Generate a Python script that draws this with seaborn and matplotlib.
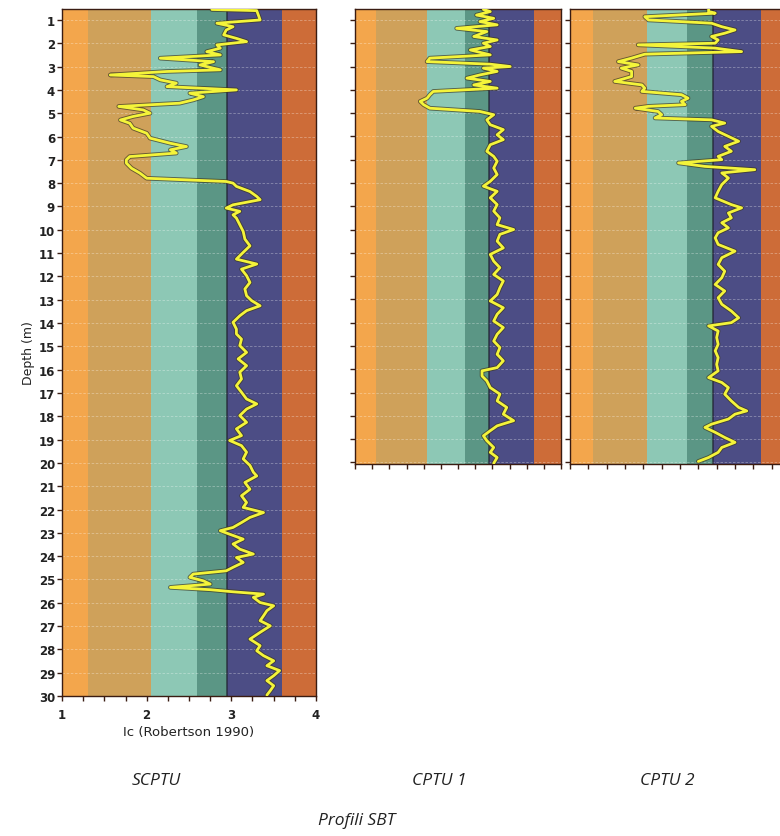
import matplotlib
matplotlib.use("Agg")
import matplotlib.pyplot as plt
import matplotlib.patheffects as pe
from matplotlib.ticker import MultipleLocator, NullFormatter
import pandas as pd
import seaborn as sns

# Robertson (1990) Ic soil behaviour type zones
zone_edges = [1.0, 1.31, 2.05, 2.60, 2.95, 3.60, 4.0]
zone_colors = ["#F3A64C", "#CFA15A", "#8DC8B5", "#5B9685", "#4C4D85", "#CD6C38"]

# SCPTU profile (depth m, Ic)
scptu_depth = [0.55, 0.60, 1.00, 1.14, 1.29, 1.43, 1.64, 1.79, 1.93, 2.07, 2.21, 2.36, 2.50, 2.64, 2.79,
               2.93, 3.14, 3.21, 3.36, 3.43, 3.57, 3.71, 3.86, 4.00, 4.14, 4.29, 4.43, 4.57, 4.71, 4.86,
               5.00, 5.14, 5.29, 5.43, 5.64, 5.86, 6.07, 6.29, 6.43, 6.57, 6.71, 6.86, 7.00, 7.14, 7.36,
               7.57, 7.79, 7.93, 8.00, 8.14, 8.36, 8.57, 8.71, 8.93, 9.07, 9.21, 9.36, 9.50, 9.79, 10.07,
               10.40, 10.69, 10.97, 11.26, 11.47, 11.69, 11.97, 12.26, 12.54, 12.83, 13.04, 13.26, 13.47,
               13.69, 13.97, 14.26, 14.47, 14.69, 14.97, 15.26, 15.54, 15.83, 16.11, 16.40, 16.69, 16.97,
               17.26, 17.47, 17.69, 17.97, 18.26, 18.54, 18.83, 19.04, 19.26, 19.54, 19.83, 20.11, 20.40,
               20.56, 20.84, 21.13, 21.41, 21.70, 21.91, 22.13, 22.34, 22.56, 22.77, 22.91, 23.06, 23.27,
               23.48, 23.70, 23.91, 24.06, 24.27, 24.48, 24.63, 24.77, 24.91, 25.06, 25.20, 25.34, 25.44,
               25.53, 25.63, 25.77, 25.99, 26.13, 26.34, 26.56, 26.77, 26.99, 27.27, 27.56, 27.84, 28.06,
               28.27, 28.49, 28.70, 28.91, 29.13, 29.34, 29.56, 29.77, 29.96]
scptu_ic = [2.77, 3.30, 3.34, 2.83, 3.02, 2.94, 2.91, 3.06, 3.18, 2.83, 2.87, 2.71, 2.87, 2.16, 2.79,
            2.63, 2.87, 2.24, 1.57, 2.08, 2.16, 2.35, 2.24, 3.06, 2.51, 2.67, 2.55, 2.39, 1.67, 1.96,
            2.04, 1.84, 1.69, 1.80, 1.84, 2.00, 2.04, 2.28, 2.47, 2.28, 2.35, 1.80, 1.76, 1.76, 1.82,
            1.92, 2.00, 2.94, 3.02, 3.06, 3.22, 3.30, 3.34, 3.02, 2.94, 3.10, 3.02, 3.06, 3.10, 3.14,
            3.16, 3.22, 3.14, 3.06, 3.30, 3.12, 3.18, 3.22, 3.16, 3.18, 3.24, 3.34, 3.18,
            3.10, 3.02, 3.06, 3.06, 3.12, 3.10, 3.18, 3.08, 3.18, 3.10, 3.12, 3.06, 3.12,
            3.18, 3.30, 3.18, 3.10, 3.18, 3.06, 3.12, 2.98, 3.12, 3.18, 3.14, 3.22, 3.26,
            3.30, 3.16, 3.22, 3.12, 3.18, 3.14, 3.38, 3.22, 3.12, 3.02, 2.87, 2.98, 3.14,
            3.02, 3.10, 3.26, 3.06, 3.14, 3.02, 2.94, 2.55, 2.51, 2.67, 2.75, 2.28, 2.75,
            3.02, 3.38, 3.26, 3.34, 3.50, 3.42, 3.38, 3.34, 3.46, 3.34, 3.22, 3.34, 3.30,
            3.38, 3.50, 3.42, 3.57, 3.50, 3.42, 3.50, 3.46, 3.42]

# CPTU 1 profile
cptu1_depth = [0.55, 0.64, 0.79, 0.93, 1.07, 1.21, 1.36, 1.50, 1.71, 1.86, 2.00, 2.14, 2.29, 2.50, 2.64,
               2.79, 2.90, 3.00, 3.07, 3.21, 3.36, 3.50, 3.64, 3.79, 3.93, 4.07, 4.21, 4.36, 4.50, 4.64,
               4.79, 4.93, 5.07, 5.29, 5.50, 5.71, 5.93, 6.14, 6.36, 6.64, 6.86, 7.07, 7.36, 7.64, 7.93,
               8.14, 8.36, 8.64, 8.93, 9.21, 9.50, 9.79, 10.00, 10.21, 10.50, 10.79, 11.07, 11.36, 11.64,
               11.93, 12.21, 12.50, 12.79, 13.07, 13.36, 13.64, 13.93, 14.21, 14.50, 14.79, 15.07, 15.36,
               15.64, 15.93, 16.07, 16.29, 16.50, 16.79, 17.07, 17.36, 17.64, 17.93, 18.21, 18.43, 18.64,
               18.86, 19.07, 19.36, 19.57, 19.79, 20.04]
cptu1_ic = [2.87, 2.97, 2.77, 3.02, 2.82, 3.07, 2.48, 2.92, 2.73, 3.07, 2.87, 2.97, 2.68, 2.97, 2.09,
            2.05, 2.97, 3.26, 2.87, 3.07, 2.82, 2.63, 2.97, 2.73, 3.07, 2.14, 2.09, 2.05, 1.95, 2.00,
            2.09, 2.82, 3.02, 2.92, 2.97, 3.16, 3.07, 3.16, 2.97, 2.92, 3.02, 3.07, 3.02, 3.07, 2.97,
            2.87, 3.07, 2.97, 3.07, 3.02, 3.11, 3.07, 3.31, 3.11, 3.07, 3.16, 2.97, 3.02, 3.11,
            3.02, 3.16, 3.11, 3.07, 2.97, 3.16, 3.07, 3.02, 3.16, 3.07, 3.02, 3.11, 3.07,
            3.16, 3.07, 2.85, 2.85, 2.92, 2.97, 3.11, 3.07, 3.21, 3.16, 3.31, 3.07, 2.97,
            2.87, 2.92, 3.02, 2.97, 3.07, 3.02]

# CPTU 2 profile
cptu2_depth = [0.55, 0.64, 0.71, 0.86, 1.00, 1.14, 1.29, 1.43, 1.57, 1.71, 1.86, 2.00, 2.07, 2.21, 2.36,
               2.47, 2.64, 2.79, 2.93, 3.07, 3.21, 3.43, 3.64, 3.79, 3.93, 4.07, 4.21, 4.36, 4.50, 4.64,
               4.71, 4.79, 4.93, 5.07, 5.21, 5.29, 5.43, 5.57, 5.79, 6.00, 6.21, 6.43, 6.64, 6.86, 7.00,
               7.14, 7.29, 7.43, 7.57, 7.79, 8.07, 8.36, 8.64, 8.93, 9.07, 9.29, 9.50, 9.71, 9.93, 10.14,
               10.36, 10.64, 10.93, 11.21, 11.50, 11.79, 12.07, 12.36, 12.64, 12.93, 13.21, 13.50, 13.79,
               14.00, 14.14, 14.36, 14.64, 14.93, 15.21, 15.50, 15.79, 16.07, 16.36, 16.57, 16.79, 17.07,
               17.36, 17.64, 17.79, 17.93, 18.14, 18.36, 18.50, 18.71, 18.93, 19.14, 19.36, 19.57, 19.79,
               19.96]
cptu2_ic = [2.89, 2.89, 2.98, 2.02, 2.07, 2.93, 3.07, 3.25, 3.11, 2.93, 3.02, 2.98, 1.93, 2.98, 3.34,
            2.02, 1.84, 1.66, 1.93, 1.70, 1.84, 1.84, 1.61, 1.98, 2.02, 1.98, 2.52, 2.61, 2.52, 2.57,
            2.07, 1.89, 2.20, 2.25, 2.16, 2.93, 3.11, 2.93, 3.02, 3.16, 3.30, 3.11, 3.20, 3.02, 3.07,
            2.48, 2.84, 3.52, 3.07, 3.16, 3.07, 3.02, 2.98, 3.20, 3.34, 3.16, 3.20, 3.07, 3.16, 3.02,
            2.98, 3.02, 3.25, 3.07, 3.02, 3.11, 3.07, 2.98, 3.11, 3.02, 3.07, 3.20, 3.30,
            3.20, 2.89, 3.02, 3.00, 3.02, 2.98, 3.02, 3.00, 3.02, 2.89, 3.07, 3.16, 3.11,
            3.20, 3.30, 3.41, 3.25, 3.16, 2.93, 2.84, 2.98, 3.11, 3.25, 3.07, 3.02, 2.89,
            2.75]

sns.set_style("ticks")
plt.rcParams["font.family"] = ["DejaVu Sans"]

fig = plt.figure(figsize=(7.8, 8.37), dpi=100)
W, H = 780.0, 837.0


def make_ax(x0, x1, ytop, ybot):
    return fig.add_axes([x0 / W, 1 - ybot / H, (x1 - x0) / W, (ybot - ytop) / H])


profiles = [
    ("SCPTU", scptu_depth, scptu_ic, (62, 316, 10, 697), 30.0, True),
    ("CPTU 1", cptu1_depth, cptu1_ic, (355, 561, 10, 465), 20.07, False),
    ("CPTU 2", cptu2_depth, cptu2_ic, (570, 790, 10, 465), 20.07, False),
]

spine_col = "#3a1c12"
for name, dep, ic, box, dmax, labelled in profiles:
    ax = make_ax(*box)
    for i in range(len(zone_colors)):
        ax.axvspan(zone_edges[i], zone_edges[i + 1], color=zone_colors[i], lw=0, zorder=0)
    for d in range(1, int(dmax) + 1):
        ax.axhline(d, color="white", lw=0.6, ls=(0, (3, 2)), alpha=0.35, zorder=1)
    ax.axvline(zone_edges[4], color="#1f2230", lw=1.1, alpha=0.8, zorder=1)
    df = pd.DataFrame({"Ic": ic, "Depth": dep})
    sns.lineplot(data=df, x="Ic", y="Depth", orient="y", sort=False, estimator=None,
                 color="#F4F43A", lw=2.0, ax=ax, zorder=3,
                 path_effects=[pe.Stroke(linewidth=3.3, foreground="#3b3620", alpha=0.7), pe.Normal()])
    ax.set_xlim(1, 4)
    ax.set_ylim(dmax, 0.53)
    ax.xaxis.set_major_locator(MultipleLocator(1))
    ax.xaxis.set_minor_locator(MultipleLocator(0.25))
    ax.yaxis.set_major_locator(MultipleLocator(1))
    ax.tick_params(axis="both", which="both", direction="out", length=3.5, width=1.0,
                   color=spine_col, labelsize=8.5)
    ax.tick_params(axis="x", pad=5)
    ax.tick_params(axis="y", pad=1.5)
    for s in ax.spines.values():
        s.set_color(spine_col)
        s.set_linewidth(1.0)
    ax.grid(False)
    if labelled:
        for lab in ax.get_yticklabels() + ax.get_xticklabels():
            lab.set_fontweight("bold")
            lab.set_color("#222222")
        ax.set_xlabel("Ic (Robertson 1990)", fontsize=9.5, labelpad=3, color="#222222")
        ax.set_ylabel("Depth (m)", fontsize=9, labelpad=3, color="#222222")
    else:
        ax.xaxis.set_major_formatter(NullFormatter())
        ax.yaxis.set_major_formatter(NullFormatter())
        ax.set_xlabel("")
        ax.set_ylabel("")

cap_kw = dict(fontsize=12.5, style="italic", color="#222222", ha="center", va="center",
              family=["Open Sans", "DejaVu Sans"])
fig.text(156 / W, 1 - 781 / H, "SCPTU", **cap_kw)
fig.text(439 / W, 1 - 781 / H, "CPTU 1", **cap_kw)
fig.text(667 / W, 1 - 781 / H, "CPTU 2", **cap_kw)
fig.text(357 / W, 1 - 821 / H, "Profili SBT", **cap_kw)

fig.savefig("out.png", dpi=100)
